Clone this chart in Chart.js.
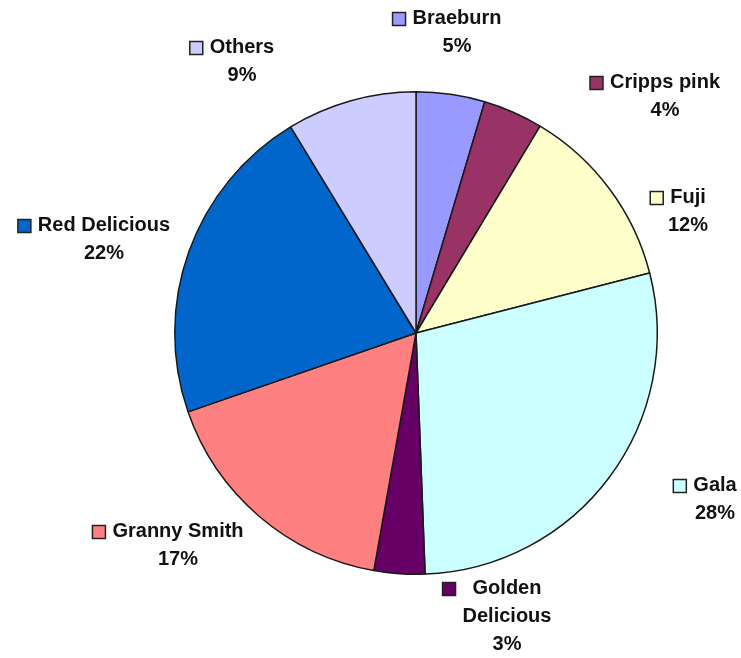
<!DOCTYPE html>
<html>
<head>
<meta charset="utf-8">
<script src="https://cdn.jsdelivr.net/npm/chart.js@4/dist/chart.umd.min.js"></script>
<style>
  html, body { margin: 0; padding: 0; background: #ffffff; }
  canvas { display: block; }
</style>
</head>
<body>
<canvas id="chart" width="741" height="658"></canvas>
<script>
const categories = ['Braeburn', 'Cripps pink', 'Fuji', 'Gala', 'Golden Delicious', 'Granny Smith', 'Red Delicious', 'Others']
// shares, labels show them rounded
const shares = [4.6, 4.0, 12.4, 28.4, 3.4, 16.9, 21.6, 8.7]
const colors = ['#9999ff', '#993366', '#ffffcc', '#ccffff', '#660066', '#ff8080', '#0066cc', '#ccccff']

// where each label block sits (centre x of the text, centre y of the first line)
const labelAnchors = [
  [457, 18], [665, 82], [688, 197], [715, 485],
  [507, 588], [178, 531], [104, 225], [242, 47],
]
const wrapLabel = [false, false, false, false, true, false, false, false]

const FONT = "bold 20px 'Liberation Sans', Arial, sans-serif"
const LINE_H = 28
const BOX = 13

const pieLabels = {
  id: 'pieLabels',
  afterDraw(chart) {
    const { ctx } = chart
    const total = shares.reduce((a, b) => a + b, 0)
    ctx.save()
    ctx.font = FONT
    ctx.textAlign = 'center'
    ctx.textBaseline = 'middle'
    categories.forEach((name, i) => {
      const [cx, cy] = labelAnchors[i]
      const lines = wrapLabel[i] ? name.split(' ') : [name]
      lines.push(Math.round((shares[i] / total) * 100) + '%')
      const blockW = Math.max(...lines.slice(0, -1).map(l => ctx.measureText(l).width))

      // little legend key
      const bx = cx - blockW / 2 - 7 - BOX
      const by = cy - BOX / 2 + 1
      ctx.fillStyle = colors[i]
      ctx.fillRect(bx, by, BOX, BOX)
      ctx.lineWidth = 1.5
      ctx.strokeStyle = '#222'
      ctx.strokeRect(bx, by, BOX, BOX)

      ctx.fillStyle = '#111'
      lines.forEach((l, k) => ctx.fillText(l, cx, cy + k * LINE_H))
    })
    ctx.restore()
  },
}

new Chart(document.getElementById('chart'), {
  type: 'pie',
  data: {
    labels: categories,
    datasets: [{
      data: shares,
      backgroundColor: colors,
      borderColor: '#1a1a1a',
      borderWidth: 1.5,
    }],
  },
  options: {
    responsive: false,
    animation: false,
    layout: { padding: { left: 174, right: 83, top: 91, bottom: 83 } },
    plugins: {
      legend: { display: false },
      tooltip: { enabled: false },
    },
  },
  plugins: [pieLabels],
})
</script>
</body>
</html>
